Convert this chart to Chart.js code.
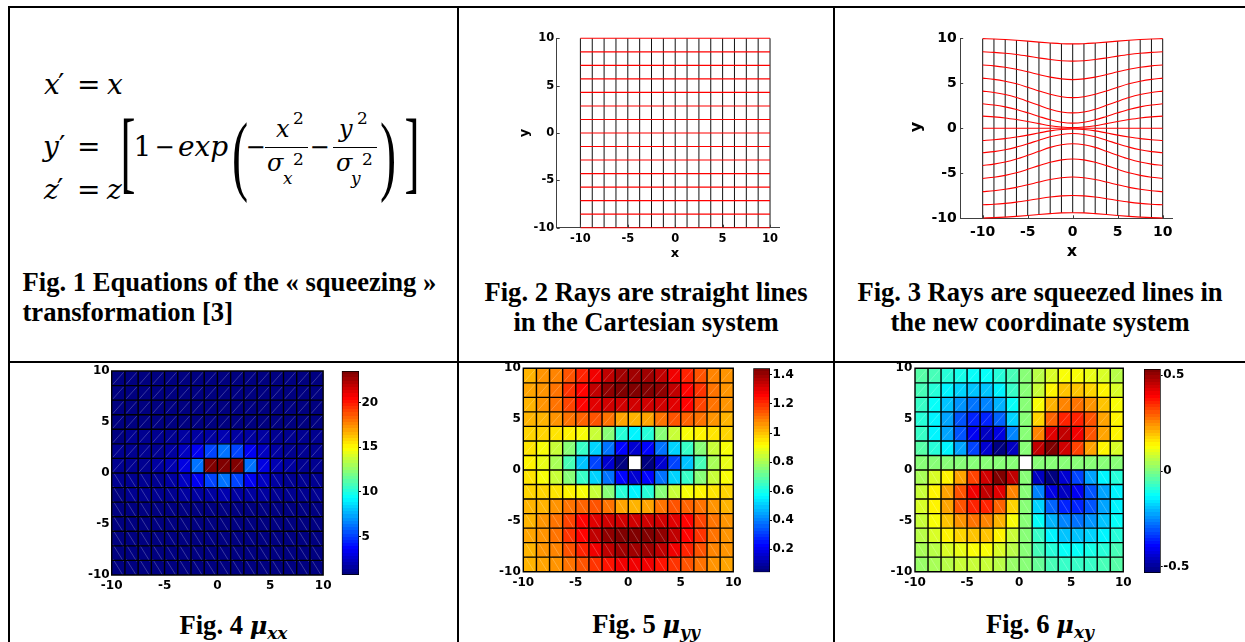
<!DOCTYPE html>
<html><head><meta charset="utf-8">
<script src="https://cdn.jsdelivr.net/npm/chart.js@4.4.1/dist/chart.umd.min.js"></script>
<style>
html,body{margin:0;padding:0;background:#fff;}
#page{position:relative;width:1245px;height:642px;overflow:hidden;background:#fff;}
.ln{position:absolute;background:#000;}
canvas{position:absolute;}
.cap{position:absolute;font-family:"Liberation Serif","Times New Roman",serif;font-weight:bold;font-size:26.6px;line-height:30.6px;color:#000;white-space:nowrap;}
.mu{font-family:"DejaVu Serif",serif;font-style:italic;font-weight:bold;font-size:24px;}
.musub{font-family:"DejaVu Serif",serif;font-style:italic;font-weight:bold;font-size:17px;position:relative;top:5px;}
.eq{position:absolute;font-family:"DejaVu Serif",serif;line-height:1;white-space:nowrap;color:#000;}
.dl{position:absolute;font-family:"Liberation Serif",serif;line-height:1;white-space:nowrap;color:#000;}
.lab{position:absolute;font-family:"DejaVu Sans",sans-serif;font-weight:bold;line-height:1;color:#000;white-space:nowrap;}
.bar{position:absolute;background:#000;height:1.4px;}
</style></head>
<body><div id="page">
<div class="ln" style="left:8px;top:6px;width:1237px;height:2px"></div>
<div class="ln" style="left:8px;top:6px;width:2px;height:636px"></div>
<div class="ln" style="left:457px;top:6px;width:2px;height:636px"></div>
<div class="ln" style="left:833px;top:6px;width:2px;height:636px"></div>
<div class="ln" style="left:8px;top:361px;width:1237px;height:2px"></div>

<canvas id="c2"></canvas>
<canvas id="c3"></canvas>
<canvas id="h4"></canvas><canvas id="b4"></canvas>
<canvas id="h5"></canvas><canvas id="b5"></canvas>
<canvas id="h6"></canvas><canvas id="b6"></canvas>

<div class="cap" style="left:22.5px;top:266.7px">Fig. 1 Equations of the « squeezing »<br>transformation [3]</div>
<div class="cap" style="left:458px;width:376px;top:276.7px;text-align:center">Fig. 2 Rays are straight lines<br>in the Cartesian system</div>
<div class="cap" style="left:835px;width:410px;top:276.7px;text-align:center">Fig. 3 Rays are squeezed lines in<br>the new coordinate system</div>
<div class="cap" style="left:10px;width:447px;top:610px;text-align:center">Fig. 4 <span class="mu">μ</span><span class="musub">xx</span></div>
<div class="cap" style="left:459px;width:374px;top:609px;text-align:center">Fig. 5 <span class="mu">μ</span><span class="musub">yy</span></div>
<div class="cap" style="left:835px;width:410px;top:609px;text-align:center">Fig. 6 <span class="mu">μ</span><span class="musub">xy</span></div>

<div class="lab" style="left:675px;top:252px;font-size:13px;transform:translate(-50%,-50%)">x</div>
<div class="lab" style="left:523px;top:133px;font-size:13px;transform:translate(-50%,-50%) rotate(-90deg)">y</div>
<div class="lab" style="left:1072px;top:251px;font-size:16px;transform:translate(-50%,-50%)">x</div>
<div class="lab" style="left:916px;top:127px;font-size:16px;transform:translate(-50%,-50%) rotate(-90deg)">y</div>
</div>
<script>
// ---------------- data ----------------
const GRID_X = [-10,-8.75,-7.5,-6.25,-5,-3.75,-2.5,-1.25,0,1.25,2.5,3.75,5,6.25,7.5,8.75,10];
const GRID_Y = [-10,-8.571,-7.143,-5.714,-4.286,-2.857,-1.429,0,1.429,2.857,4.286,5.714,7.143,8.571,10];
const AXIS_TICKS = [-10,-5,0,5,10];

// Fig. 3 squeezed rays (one row per ray, bottom to top, values at GRID_X)
const SQUEEZED = [
 [-9.96,-9.93,-9.87,-9.79,-9.69,-9.58,-9.48,-9.40,-9.38,-9.40,-9.48,-9.58,-9.69,-9.79,-9.87,-9.93,-9.96],
 [-8.50,-8.44,-8.34,-8.20,-8.02,-7.82,-7.64,-7.51,-7.46,-7.51,-7.64,-7.82,-8.02,-8.20,-8.34,-8.44,-8.50],
 [-7.04,-6.94,-6.78,-6.56,-6.28,-5.97,-5.69,-5.49,-5.41,-5.49,-5.69,-5.97,-6.28,-6.56,-6.78,-6.94,-7.04],
 [-5.57,-5.44,-5.23,-4.94,-4.56,-4.15,-3.78,-3.51,-3.41,-3.51,-3.78,-4.15,-4.56,-4.94,-5.23,-5.44,-5.57],
 [-4.13,-3.98,-3.75,-3.42,-3.00,-2.55,-2.12,-1.82,-1.71,-1.82,-2.12,-2.55,-3.00,-3.42,-3.75,-3.98,-4.13],
 [-2.72,-2.59,-2.38,-2.09,-1.72,-1.32,-0.94,-0.68,-0.58,-0.68,-0.94,-1.32,-1.72,-2.09,-2.38,-2.59,-2.72],
 [-1.35,-1.27,-1.15,-0.97,-0.76,-0.52,-0.29,-0.14,-0.08,-0.14,-0.29,-0.52,-0.76,-0.97,-1.15,-1.27,-1.35],
 [0,0,0,0,0,0,0,0,0,0,0,0,0,0,0,0,0],
 [1.35,1.27,1.15,0.97,0.76,0.52,0.29,0.14,0.08,0.14,0.29,0.52,0.76,0.97,1.15,1.27,1.35],
 [2.72,2.59,2.38,2.09,1.72,1.32,0.94,0.68,0.58,0.68,0.94,1.32,1.72,2.09,2.38,2.59,2.72],
 [4.13,3.98,3.75,3.42,3.00,2.55,2.12,1.82,1.71,1.82,2.12,2.55,3.00,3.42,3.75,3.98,4.13],
 [5.57,5.44,5.23,4.94,4.56,4.15,3.78,3.51,3.41,3.51,3.78,4.15,4.56,4.94,5.23,5.44,5.57],
 [7.04,6.94,6.78,6.56,6.28,5.97,5.69,5.49,5.41,5.49,5.69,5.97,6.28,6.56,6.78,6.94,7.04],
 [8.50,8.44,8.34,8.20,8.02,7.82,7.64,7.51,7.46,7.51,7.64,7.82,8.02,8.20,8.34,8.44,8.50],
 [9.96,9.93,9.87,9.79,9.69,9.58,9.48,9.40,9.38,9.40,9.48,9.58,9.69,9.79,9.87,9.93,9.96]
];

// heat maps: 14 rows (top to bottom) x 16 columns (left to right); null = blank cell
const MU_XX = [
 [0.98,0.95,0.92,0.88,0.83,0.79,0.75,0.72,0.71,0.72,0.75,0.79,0.83,0.88,0.92,0.95],
 [0.97,0.95,0.91,0.87,0.82,0.77,0.73,0.70,0.69,0.70,0.73,0.77,0.82,0.87,0.91,0.95],
 [0.98,0.96,0.94,0.90,0.86,0.82,0.78,0.76,0.75,0.76,0.78,0.82,0.86,0.90,0.94,0.96],
 [1.00,1.00,1.00,1.00,0.99,0.99,0.99,0.99,0.99,0.99,0.99,0.99,0.99,1.00,1.00,1.00],
 [1.03,1.05,1.10,1.17,1.28,1.42,1.58,1.72,1.77,1.72,1.58,1.42,1.28,1.17,1.10,1.05],
 [1.05,1.11,1.21,1.39,1.72,2.31,3.38,5.06,6.16,5.06,3.38,2.31,1.72,1.39,1.21,1.11],
 [1.07,1.14,1.27,1.51,2.00,3.09,6.27,23.54,23.54,23.54,6.27,3.09,2.00,1.51,1.27,1.14],
 [1.05,1.11,1.21,1.39,1.72,2.31,3.38,5.06,6.16,5.06,3.38,2.31,1.72,1.39,1.21,1.11],
 [1.03,1.05,1.10,1.17,1.28,1.42,1.58,1.72,1.77,1.72,1.58,1.42,1.28,1.17,1.10,1.05],
 [1.00,1.00,1.00,1.00,0.99,0.99,0.99,0.99,0.99,0.99,0.99,0.99,0.99,1.00,1.00,1.00],
 [0.98,0.96,0.94,0.90,0.86,0.82,0.78,0.76,0.75,0.76,0.78,0.82,0.86,0.90,0.94,0.96],
 [0.97,0.95,0.91,0.87,0.82,0.77,0.73,0.70,0.69,0.70,0.73,0.77,0.82,0.87,0.91,0.95],
 [0.98,0.95,0.92,0.88,0.83,0.79,0.75,0.72,0.71,0.72,0.75,0.79,0.83,0.88,0.92,0.95],
 [0.98,0.97,0.94,0.91,0.88,0.84,0.81,0.79,0.78,0.79,0.81,0.84,0.88,0.91,0.94,0.97]
];
const MU_YY = [
 [1.026,1.052,1.093,1.150,1.220,1.290,1.349,1.387,1.400,1.387,1.349,1.290,1.220,1.150,1.093,1.052],
 [1.031,1.063,1.114,1.186,1.269,1.347,1.404,1.435,1.445,1.435,1.404,1.347,1.269,1.186,1.114,1.063],
 [1.027,1.056,1.107,1.177,1.252,1.309,1.333,1.333,1.329,1.333,1.333,1.309,1.252,1.177,1.107,1.056],
 [1.009,1.024,1.053,1.095,1.133,1.139,1.100,1.041,1.012,1.041,1.100,1.139,1.133,1.095,1.053,1.024],
 [0.979,0.966,0.952,0.937,0.910,0.851,0.745,0.622,0.564,0.622,0.745,0.851,0.910,0.937,0.952,0.966],
 [0.950,0.907,0.841,0.752,0.642,0.517,0.380,0.239,0.162,0.239,0.380,0.517,0.642,0.752,0.841,0.907],
 [0.938,0.881,0.790,0.662,0.501,0.323,0.159,0.042,null,0.042,0.159,0.323,0.501,0.662,0.790,0.881],
 [0.950,0.907,0.841,0.752,0.642,0.517,0.380,0.239,0.162,0.239,0.380,0.517,0.642,0.752,0.841,0.907],
 [0.979,0.966,0.952,0.937,0.910,0.851,0.745,0.622,0.564,0.622,0.745,0.851,0.910,0.937,0.952,0.966],
 [1.009,1.024,1.053,1.095,1.133,1.139,1.100,1.041,1.012,1.041,1.100,1.139,1.133,1.095,1.053,1.024],
 [1.027,1.056,1.107,1.177,1.252,1.309,1.333,1.333,1.329,1.333,1.333,1.309,1.252,1.177,1.107,1.056],
 [1.031,1.063,1.114,1.186,1.269,1.347,1.404,1.435,1.445,1.435,1.404,1.347,1.269,1.186,1.114,1.063],
 [1.026,1.052,1.093,1.150,1.220,1.290,1.349,1.387,1.400,1.387,1.349,1.290,1.220,1.150,1.093,1.052],
 [1.018,1.035,1.062,1.101,1.148,1.198,1.242,1.273,1.283,1.273,1.242,1.198,1.148,1.101,1.062,1.035]
];
const MU_XY = [
 [-0.038,-0.062,-0.090,-0.115,-0.129,-0.124,-0.097,-0.054,0,0.054,0.097,0.124,0.129,0.115,0.090,0.062],
 [-0.058,-0.095,-0.138,-0.177,-0.197,-0.188,-0.147,-0.081,0,0.081,0.147,0.188,0.197,0.177,0.138,0.095],
 [-0.078,-0.129,-0.189,-0.244,-0.275,-0.266,-0.211,-0.117,0,0.117,0.211,0.266,0.275,0.244,0.189,0.129],
 [-0.089,-0.149,-0.224,-0.301,-0.355,-0.360,-0.297,-0.169,0,0.169,0.297,0.360,0.355,0.301,0.224,0.149],
 [-0.081,-0.139,-0.219,-0.313,-0.404,-0.455,-0.420,-0.260,0,0.260,0.420,0.455,0.404,0.313,0.219,0.139],
 [-0.049,-0.087,-0.143,-0.221,-0.322,-0.439,-0.533,-0.454,0,0.454,0.533,0.439,0.322,0.221,0.143,0.087],
 [0,0,0,0,0,0,0,0,null,0,0,0,0,0,0,0],
 [0.049,0.087,0.143,0.221,0.322,0.439,0.533,0.454,0,-0.454,-0.533,-0.439,-0.322,-0.221,-0.143,-0.087],
 [0.081,0.139,0.219,0.313,0.404,0.455,0.420,0.260,0,-0.260,-0.420,-0.455,-0.404,-0.313,-0.219,-0.139],
 [0.089,0.149,0.224,0.301,0.355,0.360,0.297,0.169,0,-0.169,-0.297,-0.360,-0.355,-0.301,-0.224,-0.149],
 [0.078,0.129,0.189,0.244,0.275,0.266,0.211,0.117,0,-0.117,-0.211,-0.266,-0.275,-0.244,-0.189,-0.129],
 [0.058,0.095,0.138,0.177,0.197,0.188,0.147,0.081,0,-0.081,-0.147,-0.188,-0.197,-0.177,-0.138,-0.095],
 [0.038,0.062,0.090,0.115,0.129,0.124,0.097,0.054,0,-0.054,-0.097,-0.124,-0.129,-0.115,-0.090,-0.062],
 [0.021,0.035,0.051,0.067,0.076,0.074,0.059,0.033,0,-0.033,-0.059,-0.074,-0.076,-0.067,-0.051,-0.035]
];
const CLIM_XX = [0.69, 23.54];
const CLIM_YY = [0.042, 1.445];
const CLIM_XY = [-0.533, 0.533];
const CB_TICKS_XX = [5,10,15,20];
const CB_TICKS_YY = [0.2,0.4,0.6,0.8,1,1.2,1.4];
const CB_TICKS_XY = [-0.5,0,0.5];

// ---------------- helpers ----------------
Chart.defaults.font.family = "'DejaVu Sans', sans-serif";
Chart.defaults.color = '#000';
const page = document.getElementById('page');

function jet(t){
  t = Math.max(0, Math.min(1, t));
  const f = v => Math.round(255*Math.max(0, Math.min(1, 1.5 - Math.abs(4*t - v))));
  return 'rgb(' + f(3) + ',' + f(2) + ',' + f(1) + ')';
}
function jetIndex(v, clim){
  let i = Math.floor((v - clim[0])/(clim[1]-clim[0])*64);
  i = Math.max(0, Math.min(63, i));
  return jet(i/63);
}
function setupCanvas(id, box){
  const cv = document.getElementById(id);
  cv.width = box.w; cv.height = box.h;
  cv.style.left = box.x+'px'; cv.style.top = box.y+'px';
  cv.style.width = box.w+'px'; cv.style.height = box.h+'px';
  return cv;
}
function baseOptions(box, area){
  return {responsive:false, animation:false, devicePixelRatio:1, events:[],
    plugins:{legend:{display:false}, tooltip:{enabled:false}},
    layout:{padding:{left:0, top:area.t-box.y, right:box.x+box.w-area.r, bottom:0}}};
}
function axisX(box, area, min, max, size, pad, border){
  return {type:'linear', position:'bottom', min:min, max:max, offset:false,
    grid:{display:false, drawTicks:false},
    border:{display:border, color:'#404040', width:1},
    ticks:{font:{size:size, weight:'bold'}, color:'#000', padding:pad, maxRotation:0, autoSkip:false, callback:v=>String(v)},
    afterBuildTicks:s=>{s.ticks = AXIS_TICKS.map(v=>({value:v}));},
    afterFit:s=>{s.height = box.y+box.h-area.b;}};
}
function axisY(box, area, size, pad, border){
  return {type:'linear', position:'left', min:-10, max:10, offset:false,
    grid:{display:false, drawTicks:false},
    border:{display:border, color:'#404040', width:1},
    ticks:{font:{size:size, weight:'bold'}, color:'#000', padding:pad, autoSkip:false, callback:v=>String(v)},
    afterBuildTicks:s=>{s.ticks = AXIS_TICKS.map(v=>({value:v}));},
    afterFit:s=>{s.width = area.l-box.x;}};
}
const inTicks = {id:'inTicks', afterDraw(chart, args, opts){
  const {ctx, chartArea:a, scales:{x, y}} = chart;
  ctx.save(); ctx.strokeStyle = '#404040'; ctx.lineWidth = 1; ctx.beginPath();
  AXIS_TICKS.forEach(v=>{
    const px = Math.round(x.getPixelForValue(v))+0.5;
    ctx.moveTo(px, a.bottom); ctx.lineTo(px, a.bottom-opts.len);
    const py = Math.round(y.getPixelForValue(v))+0.5;
    ctx.moveTo(a.left, py); ctx.lineTo(a.left+opts.len, py);
  });
  ctx.stroke(); ctx.restore();
}};

function rayChart(id, box, area, xr, size, xpad, ypad, curves){
  const cv = setupCanvas(id, box);
  const datasets = [];
  curves.forEach(ys => datasets.push({data: GRID_X.map((x,i)=>({x:x, y:ys[i]})), borderColor:'#ff0000', borderWidth:1.1,
    showLine:true, pointRadius:0, cubicInterpolationMode:'monotone', clip:false}));
  GRID_X.forEach((x,k) => datasets.push({data:[{x:x, y:curves[0][k]}, {x:x, y:curves[curves.length-1][k]}],
    borderColor:'#111', borderWidth:1, showLine:true, pointRadius:0, tension:0, clip:false}));
  const o = baseOptions(box, area);
  o.scales = {x: axisX(box, area, xr[0], xr[1], size, xpad, true), y: axisY(box, area, size, ypad, true)};
  o.plugins.inTicks = {len:3};
  new Chart(cv, {type:'scatter', data:{datasets:datasets}, options:o, plugins:[inTicks]});
}

// faint cell diagonals + black cell edges along the data grid
const cellPlugin = {id:'cellGrid', afterDatasetsDraw(chart){
  const {ctx, scales:{x, y}} = chart; const meta = chart.getDatasetMeta(0);
  ctx.save(); ctx.strokeStyle = 'rgba(255,255,255,0.38)'; ctx.lineWidth = 0.6;
  meta.data.forEach(el=>{
    const p = el.getProps(['x','y','base','width'], true);
    ctx.beginPath(); ctx.moveTo(p.x-p.width/2+1.3, p.base-1.3); ctx.lineTo(p.x+p.width/2-1.3, p.y+1.3); ctx.stroke();
  });
  ctx.strokeStyle = '#000'; ctx.lineWidth = 1.4; ctx.beginPath();
  const yb = y.getPixelForValue(GRID_Y[0]), yt = y.getPixelForValue(GRID_Y[GRID_Y.length-1]);
  const xl = x.getPixelForValue(GRID_X[0]), xr = x.getPixelForValue(GRID_X[GRID_X.length-1]);
  GRID_X.forEach(v=>{ const p = x.getPixelForValue(v); ctx.moveTo(p, yb+0.7); ctx.lineTo(p, yt-0.7); });
  GRID_Y.forEach(v=>{ const p = y.getPixelForValue(v); ctx.moveTo(xl-0.7, p); ctx.lineTo(xr+0.7, p); });
  ctx.stroke(); ctx.restore();
}};

function heatChart(id, box, area, M, clim, ypad, xpad){
  const cv = setupCanvas(id, box);
  const cells = [];
  const nY = GRID_Y.length;
  M.forEach((row, r) => row.forEach((v, c) => {
    if (v === null) return;
    cells.push({x:(GRID_X[c]+GRID_X[c+1])/2, y:[GRID_Y[nY-2-r], GRID_Y[nY-1-r]], v:v});
  }));
  const o = baseOptions(box, area);
  o.scales = {x: axisX(box, area, -10, 10, 12, xpad, false), y: axisY(box, area, 12, ypad, false)};
  new Chart(cv, {type:'bar', data:{datasets:[{data:cells,
    backgroundColor: ctx => (ctx.raw ? jetIndex(ctx.raw.v, clim) : '#000'),
    borderWidth:0, barPercentage:1, categoryPercentage:1, inflateAmount:0.5}]},
    options:o, plugins:[cellPlugin]});
}

function colorBar(id, box, area, clim, ticks){
  const cv = setupCanvas(id, box);
  const o = {responsive:false, animation:false, devicePixelRatio:1, events:[],
    plugins:{legend:{display:false}, tooltip:{enabled:false}},
    layout:{padding:{left:area.l-box.x, top:area.t-box.y, right:0, bottom:box.y+box.h-area.b}},
    scales:{
      x:{display:false},
      y:{type:'linear', position:'right', min:clim[0], max:clim[1],
        grid:{display:true, drawOnChartArea:false, drawTicks:true, tickLength:2, color:'#000', lineWidth:1},
        border:{display:false},
        ticks:{font:{size:12, weight:'bold'}, color:'#000', padding:0.5, autoSkip:false, callback:v=>String(v)},
        afterBuildTicks:s=>{s.ticks = ticks.map(v=>({value:v}));},
        afterFit:s=>{s.width = box.x+box.w-area.r;}}
    }};
  new Chart(cv, {type:'bar', data:{labels:[''], datasets:[{data:[[clim[0], clim[1]]],
    backgroundColor: ctx => {
      const ch = ctx.chart; const a = ch.chartArea; if (!a) return '#000';
      const g = ch.ctx.createLinearGradient(0, a.bottom, 0, a.top);
      for (let i=0;i<64;i++){ const c = jet(i/63); g.addColorStop(i/64, c); g.addColorStop((i+1)/64, c); }
      return g;
    },
    borderColor:'#000', borderWidth:1, borderSkipped:false, barPercentage:1, categoryPercentage:1}]}, options:o});
}

// ---------------- charts ----------------
const FIG2_STRAIGHT = GRID_Y.map(y => GRID_X.map(() => y));
rayChart('c2', {x:500,y:20,w:300,h:230}, {l:556.7,t:38.3,r:779.5,b:227.7}, [-12.5,11], 11.5, 4, 2.5, FIG2_STRAIGHT);
rayChart('c3', {x:900,y:20,w:300,h:225}, {l:960.2,t:38.3,r:1172.6,b:218.3}, [-12.5,11.1], 14, 5.5, 3.5, SQUEEZED);

heatChart('h4', {x:70,y:355,w:265,h:245}, {l:111.7,t:371,r:330,b:575}, MU_XX, CLIM_XX, 2, 3.5);
colorBar('b4', {x:340,y:355,w:50,h:235}, {l:341.7,t:371,r:359,b:575}, CLIM_XX, CB_TICKS_XX);
heatChart('h5', {x:480,y:352,w:266,h:245}, {l:523.3,t:368.3,r:741.3,b:571.7}, MU_YY, CLIM_YY, 2.5, 4.4);
colorBar('b5', {x:752,y:352,w:50,h:236}, {l:753.3,t:368.3,r:770,b:572.3}, CLIM_YY, CB_TICKS_YY);
heatChart('h6', {x:870,y:352,w:266,h:245}, {l:915,t:368.3,r:1131.7,b:571.7}, MU_XY, CLIM_XY, 2.7, 4.4);
colorBar('b6', {x:1142,y:353,w:60,h:236}, {l:1144,t:369,r:1160.7,b:573}, CLIM_XY, CB_TICKS_XY);

// ---------------- equations (text) ----------------
function put(txt, left, base, size, italic){
  const s = document.createElement('span'); s.className = 'eq'; s.textContent = txt;
  s.style.fontSize = size+'px'; s.style.left = left+'px'; s.style.top = (base - 0.846*size)+'px';
  if (italic) s.style.fontStyle = 'italic';
  page.appendChild(s);
}
function delim(ch, cx, cy, size, sx, shift){
  const s = document.createElement('span'); s.className = 'dl'; s.textContent = ch;
  s.style.fontSize = size+'px'; s.style.left = cx+'px'; s.style.top = (cy - shift*size)+'px';
  s.style.transform = 'translate(-50%,-50%) scaleX('+sx+')';
  page.appendChild(s);
}
function hbar(left, top, w){
  const d = document.createElement('div'); d.className = 'bar';
  d.style.left = left+'px'; d.style.top = top+'px'; d.style.width = w+'px'; page.appendChild(d);
}
// line 1
put('x', 44, 95, 28, true); put('′', 58, 95, 28, false); put('=', 77, 95, 28, false); put('x', 107, 95, 28, true);
// line 2
put('y', 43, 157, 28, true); put('′', 59, 157, 28, false); put('=', 77, 157, 28, false);
delim('[', 127.5, 160, 90, 0.5, 0.0845);
put('1', 133.5, 157, 28, false); put('−', 154.6, 155.7, 24, false); put('exp', 178, 157, 28, true);
delim('(', 240, 161.5, 88, 0.55, 0.079);
put('−', 245.6, 155.7, 24, false);
hbar(265, 146.5, 43);
put('x', 276, 137, 24, true); put('2', 293, 124, 17, false);
put('σ', 267, 171, 24, true); put('x', 283, 184, 17, true); put('2', 293, 165, 17, false);
put('−', 309.6, 155.7, 24, false);
hbar(333, 146.5, 44);
put('y', 339, 137, 24, true); put('2', 357, 124, 17, false);
put('σ', 336, 171, 24, true); put('y', 351, 184, 17, true); put('2', 362, 165, 17, false);
delim(')', 387.5, 161.5, 88, 0.55, 0.079);
delim(']', 412, 160, 90, 0.5, 0.0845);
// line 3
put('z', 44, 200, 28, true); put('′', 57, 200, 28, false); put('=', 77, 200, 28, false); put('z', 107, 200, 28, true);
</script>
</body></html>
